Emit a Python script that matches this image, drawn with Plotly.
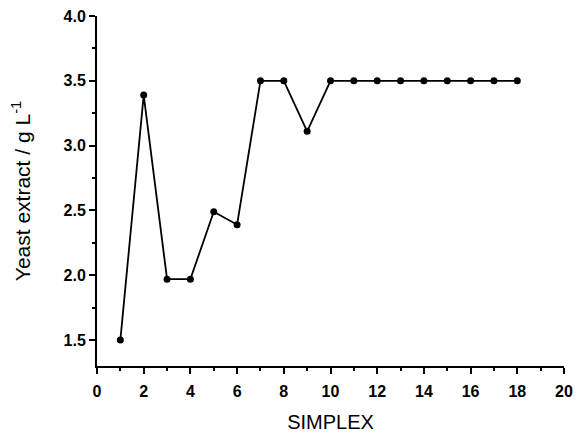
import plotly.graph_objects as go

simplex = [1, 2, 3, 4, 5, 6, 7, 8, 9, 10, 11, 12, 13, 14, 15, 16, 17, 18]
yeast_extract = [1.50, 3.39, 1.97, 1.97, 2.49, 2.39, 3.50, 3.50, 3.11,
                 3.50, 3.50, 3.50, 3.50, 3.50, 3.50, 3.50, 3.50, 3.50]

fig = go.Figure()
fig.add_trace(go.Scatter(
    x=simplex, y=yeast_extract, mode="lines+markers",
    line=dict(color="black", width=1.8),
    marker=dict(color="black", size=7),
    showlegend=False,
))

axis_common = dict(
    showline=True, linecolor="black", linewidth=2, mirror=False,
    ticks="outside", ticklen=6, tickwidth=2, tickcolor="black",
    showgrid=False, zeroline=False, automargin=False,
    tickfont=dict(family="Liberation Sans, Arial", size=16, color="black", weight="bold"),
)

fig.update_xaxes(
    range=[0, 20], tickvals=list(range(0, 21, 2)),
    minor=dict(ticks="outside", ticklen=3, tickwidth=1.5, tickcolor="black", dtick=1, tick0=0),
    ticklabelstandoff=4,
    title=dict(text="SIMPLEX", font=dict(family="Liberation Sans, Arial", size=20, color="black"), standoff=22),
    **axis_common,
)
fig.update_yaxes(
    range=[1.3, 4.0], tickvals=[1.5, 2.0, 2.5, 3.0, 3.5, 4.0], ticktext=["1.5", "2.0", "2.5", "3.0", "3.5", "4.0"],
    minor=dict(ticks="outside", ticklen=3, tickwidth=1.5, tickcolor="black", tickvals=[1.75, 2.25, 2.75, 3.25, 3.75]),
    title=dict(text="Yeast extract / g L<sup>-1</sup>", font=dict(family="Liberation Sans, Arial", size=21, color="black"), standoff=27),
    **axis_common,
)

fig.update_layout(
    width=577, height=433,
    margin=dict(l=97, r=13, t=16, b=67),
    plot_bgcolor="white", paper_bgcolor="white",
)

fig.write_html("out.html")
